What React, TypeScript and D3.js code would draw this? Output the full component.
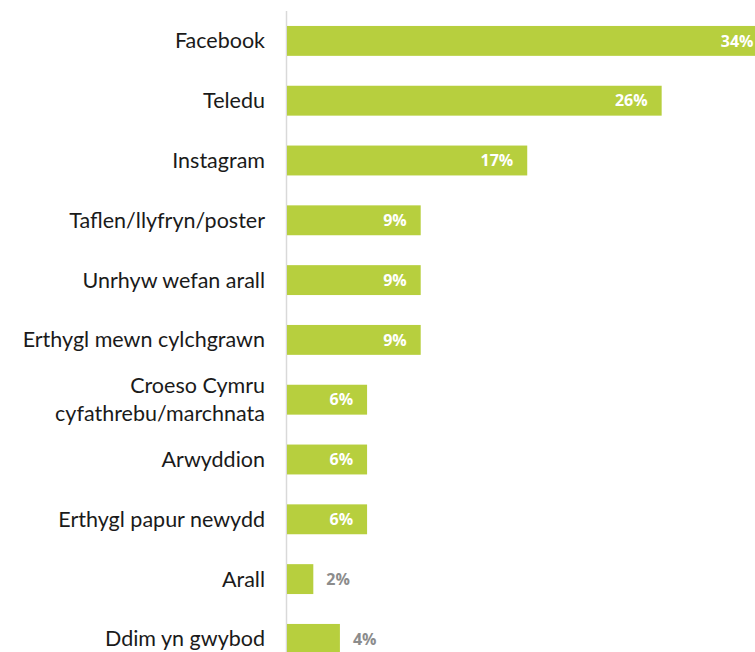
import { useEffect, useRef } from 'react'
import * as d3 from 'd3'

const CATEGORIES = [
  'Facebook',
  'Teledu',
  'Instagram',
  'Taflen/llyfryn/poster',
  'Unrhyw wefan arall',
  'Erthygl mewn cylchgrawn',
  'Croeso Cymru\ncyfathrebu/marchnata',
  'Arwyddion',
  'Erthygl papur newydd',
  'Arall',
  'Ddim yn gwybod',
]

const VALUES = [33.6, 26.2, 16.8, 9.35, 9.35, 9.35, 5.6, 5.6, 5.6, 1.84, 3.7]
const LABELS = ['34%', '26%', '17%', '9%', '9%', '9%', '6%', '6%', '6%', '2%', '4%']

const WIDTH = 755
const HEIGHT = 652
const BAR_COLOR = '#b7cf3e'

export default function App() {
  const svgRef = useRef<SVGSVGElement>(null)

  useEffect(() => {
    if (!svgRef.current) return
    const svg = d3.select(svgRef.current)
    svg.selectAll('*').remove()

    const x0 = 287
    const x = d3.scaleLinear().domain([0, 10]).range([x0, x0 + 143])
    const y = d3.scaleBand<string>()
      .domain(CATEGORIES)
      .range([11, 11 + 59.8 * CATEGORIES.length])
      .paddingInner(0.5)
      .paddingOuter(0.25)

    // axis line
    svg.append('line')
      .attr('x1', x0 - 0.5).attr('x2', x0 - 0.5)
      .attr('y1', 11).attr('y2', HEIGHT)
      .attr('stroke', '#d9d9d9')
      .attr('stroke-width', 1.5)

    const rows = svg.selectAll('g.row')
      .data(CATEGORIES)
      .join('g')
      .attr('class', 'row')

    rows.append('rect')
      .attr('x', x0)
      .attr('y', d => y(d)!)
      .attr('width', (_, i) => x(VALUES[i]) - x0)
      .attr('height', y.bandwidth())
      .attr('fill', BAR_COLOR)

    // category labels
    rows.each(function (d) {
      const lines = d.split('\n')
      const cy = y(d)! + y.bandwidth() / 2
      const t = d3.select(this).append('text')
        .attr('x', 265)
        .attr('text-anchor', 'end')
        .attr('font-family', 'Lato, sans-serif')
        .attr('font-size', 21.5)
        .attr('fill', '#1a1a1a')
      lines.forEach((line, k) => {
        t.append('tspan')
          .attr('x', 265)
          .attr('y', cy + (k - (lines.length - 1) / 2) * 28)
          .attr('dy', '0.35em')
          .text(line)
      })
    })

    // value labels
    rows.append('text')
      .attr('x', (_, i) => VALUES[i] < 4.5 ? x(VALUES[i]) + 13 : x(VALUES[i]) - 14)
      .attr('y', d => y(d)! + y.bandwidth() / 2)
      .attr('dy', '0.35em')
      .attr('text-anchor', (_, i) => VALUES[i] < 4.5 ? 'start' : 'end')
      .attr('font-family', '"Open Sans", sans-serif')
      .attr('font-weight', 700)
      .attr('font-size', 16)
      .attr('fill', (_, i) => VALUES[i] < 4.5 ? '#8c8c8c' : '#ffffff')
      .text((_, i) => LABELS[i])
  }, [])

  return (
    <svg
      ref={svgRef}
      width={WIDTH}
      height={HEIGHT}
      style={{ position: 'absolute', left: 0, top: 0, background: '#fff' }}
    />
  )
}
